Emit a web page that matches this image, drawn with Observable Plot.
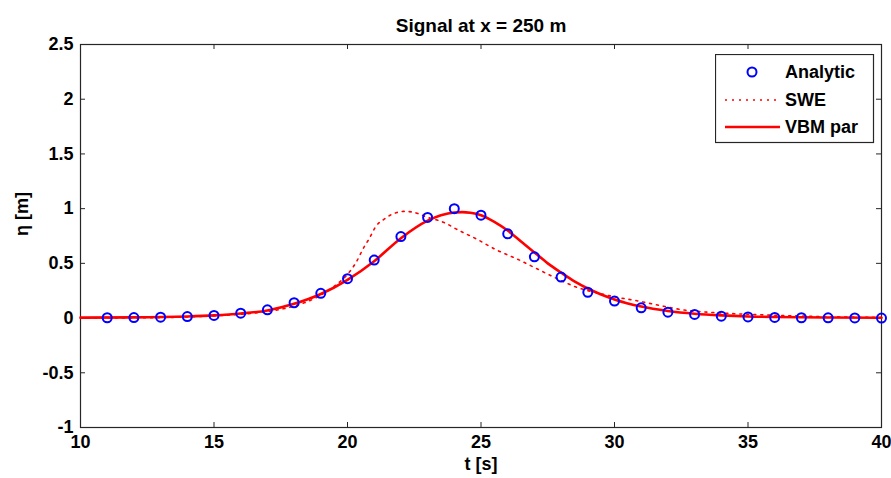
<!DOCTYPE html>
<html><head><meta charset="utf-8">
<script src="https://cdn.jsdelivr.net/npm/d3@7"></script>
<script src="https://cdn.jsdelivr.net/npm/@observablehq/plot@0.6"></script>
<style>
body{margin:0;background:#fff}
#wrap{position:relative;width:891px;height:478px}
#legend{position:absolute;left:715px;top:54px}
</style>
</head><body><div id="wrap"></div>
<script>
const title = "Signal at x = 250 m";
const xLabel = "t [s]";
const yLabel = "η [m]";
const xTicks = [10, 15, 20, 25, 30, 35, 40];
const xTickLabels = ["10", "15", "20", "25", "30", "35", "40"];
const yTicks = [-1, -0.5, 0, 0.5, 1, 1.5, 2, 2.5];
const yTickLabels = ["-1", "-0.5", "0", "0.5", "1", "1.5", "2", "2.5"];
const seriesNames = ["Analytic", "SWE", "VBM par"];

const analyticT = [11,12,13,14,15,16,17,18,19,20,21,22,23,24,25,26,27,28,29,30,31,32,33,34,35,36,37,38,39,40];
const analyticEta = [0.003,0.005,0.008,0.014,0.024,0.045,0.075,0.14,0.226,0.36,0.53,0.745,0.92,1.0,0.94,0.77,0.56,0.375,0.236,0.155,0.094,0.054,0.033,0.017,0.01,0.006,0.003,0.002,0.001,0.0];

const sweT = [10,12,14,15,16,17,17.5,18,18.5,19,19.5,20,20.3,20.6,20.8,21.1,21.35,21.6,21.85,22.1,22.4,22.7,23.0,23.3,23.6,24.1,24.85,25.6,26.35,27.1,27.85,28.6,29.35,30.1,30.8,31.7,32.7,33.5,34.5,35.5,36.5,37.5,38.5,40];
const sweEta = [0,0.002,0.01,0.02,0.035,0.06,0.08,0.11,0.15,0.21,0.29,0.40,0.50,0.64,0.72,0.85,0.90,0.94,0.965,0.975,0.97,0.95,0.92,0.90,0.875,0.81,0.72,0.62,0.54,0.45,0.36,0.28,0.23,0.19,0.16,0.115,0.07,0.054,0.04,0.03,0.022,0.015,0.01,0.005];

const vbmT = [10,12,14,15,16,17,18,19,20,21,22,23,23.5,24,24.3,24.6,25,25.5,26,26.5,27,27.5,28,28.5,29,29.5,30,31,32,33,34,35,36,38,40];
const vbmEta = [0.004,0.006,0.015,0.025,0.042,0.07,0.13,0.22,0.35,0.52,0.73,0.89,0.94,0.965,0.968,0.962,0.94,0.88,0.80,0.70,0.60,0.50,0.415,0.335,0.27,0.215,0.17,0.105,0.065,0.04,0.025,0.015,0.01,0.005,0.003];

const analytic = analyticT.map((t, i) => ({t, eta: analyticEta[i]}));
const swe = sweT.map((t, i) => ({t, eta: sweEta[i]}));
const vbm = vbmT.map((t, i) => ({t, eta: vbmEta[i]}));

const W = 891, H = 478, mL = 80, mR = 10, mT = 44, mB = 51;
const innerW = W - mL - mR, innerH = H - mT - mB;
const ink = "#262626";
const fontFamily = "'Liberation Sans', Arial, Helvetica, sans-serif";
const fs = 18;

const chart = Plot.plot({
  width: W, height: H,
  marginLeft: mL, marginRight: mR, marginTop: mT, marginBottom: mB,
  style: {fontFamily, fontSize: fs + "px", fontWeight: "bold", color: ink, background: "#fff"},
  x: {domain: [10, 40], axis: null},
  y: {domain: [-1, 2.5], axis: null},
  marks: [
    Plot.frame({stroke: ink, strokeWidth: 1.2}),
    Plot.tickX(xTicks, {x: d => d, insetTop: innerH - 5, stroke: ink}),
    Plot.tickX(xTicks, {x: d => d, insetBottom: innerH - 5, stroke: ink}),
    Plot.tickY(yTicks, {y: d => d, insetRight: innerW - 5, stroke: ink}),
    Plot.tickY(yTicks, {y: d => d, insetLeft: innerW - 5, stroke: ink}),
    Plot.axisX(xTicks, {label: null, tickSize: 0, tickPadding: 8, tickFormat: d => xTickLabels[xTicks.indexOf(d)], fontSize: fs, fontWeight: "bold", fill: "#000"}),
    Plot.axisY(yTicks, {label: null, tickSize: 0, tickPadding: 7, tickFormat: d => yTickLabels[yTicks.indexOf(d)], fontSize: fs, fontWeight: "bold", fill: "#000"}),
    Plot.line(swe, {x: "t", y: "eta", stroke: "red", strokeWidth: 1.6, strokeDasharray: "2,5", curve: "monotone-x"}),
    Plot.line(vbm, {x: "t", y: "eta", stroke: "red", strokeWidth: 2.6, curve: "monotone-x"}),
    Plot.dot(analytic, {x: "t", y: "eta", r: 4.5, stroke: "blue", strokeWidth: 2, fill: "none"}),
    Plot.text([title], {frameAnchor: "top", dy: -26, fontSize: 19, fontWeight: "bold", fill: "#000"}),
    Plot.text([xLabel], {frameAnchor: "bottom", dy: 42, fontSize: fs, fontWeight: "bold", fill: "#000"}),
    Plot.text([yLabel], {frameAnchor: "left", dx: -58, rotate: -90, fontSize: fs, fontWeight: "bold", fill: "#000"})
  ]
});
const wrap = document.getElementById("wrap");
wrap.appendChild(chart);

// legend
const lg = d3.create("svg").attr("id", "legend").attr("width", 160).attr("height", 90)
  .style("font-family", fontFamily).style("font-weight", "bold").style("font-size", fs + "px");
lg.append("rect").attr("x", 0.5).attr("y", 0.5).attr("width", 158).attr("height", 88)
  .attr("fill", "#fff").attr("stroke", ink).attr("stroke-width", 1.2);
const rows = [18, 46, 73];
lg.append("circle").attr("cx", 37).attr("cy", rows[0]).attr("r", 4.5).attr("fill", "none").attr("stroke", "blue").attr("stroke-width", 2);
lg.append("line").attr("x1", 10).attr("x2", 65).attr("y1", rows[1]).attr("y2", rows[1]).attr("stroke", "red").attr("stroke-width", 1.6).attr("stroke-dasharray", "2,5");
lg.append("line").attr("x1", 10).attr("x2", 65).attr("y1", rows[2]).attr("y2", rows[2]).attr("stroke", "red").attr("stroke-width", 2.6);
seriesNames.forEach((n, i) => {
  lg.append("text").attr("x", 70).attr("y", rows[i]).attr("dy", "0.35em").attr("fill", "#000").text(n);
});
wrap.appendChild(lg.node());
</script>
</body></html>
